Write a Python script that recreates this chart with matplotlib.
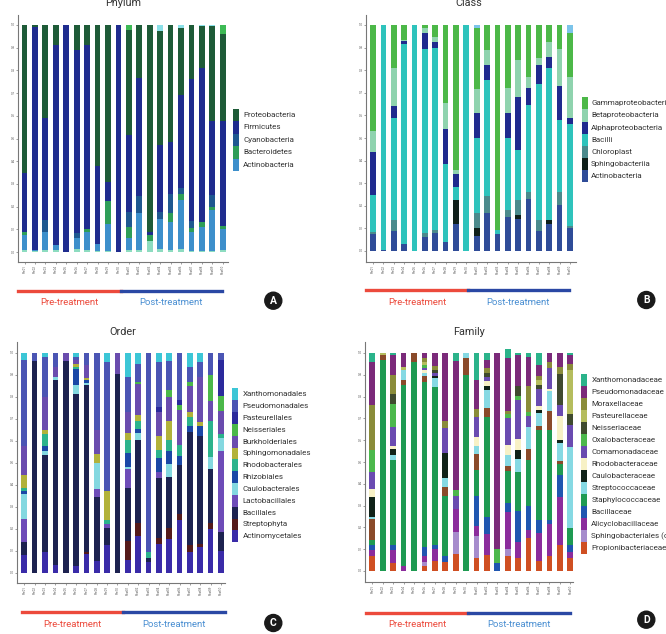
import matplotlib
matplotlib.use("Agg")
import numpy as np
import matplotlib.pyplot as plt
from matplotlib.patches import Rectangle, Ellipse
from matplotlib.lines import Line2D

plt.rcParams['font.family'] = ['Liberation Sans Narrow', 'Roboto', 'DejaVu Sans']

W, H = 666, 634

samples = ['Pre01', 'Pre02', 'Pre03', 'Pre04', 'Pre05', 'Pre06', 'Pre07', 'Pre08', 'Pre09', 'Pre10',
           'Post01', 'Post02', 'Post03', 'Post04', 'Post05', 'Post06', 'Post07', 'Post08', 'Post09', 'Post10']

# ---- Phylum (bottom -> top)
phy_other = [0.01, 0.005, 0.01, 0.01, 0, 0.015, 0.01, 0.005, 0.005, 0,
             0.01, 0.01, 0.05, 0.015, 0.01, 0.015, 0.005, 0.005, 0.005, 0.01]
phy_actino = [0.065, 0.005, 0.08, 0.02, 0, 0.045, 0.08, 0.03, 0.12, 0,
              0.05, 0.16, 0, 0.13, 0.12, 0.215, 0.085, 0.105, 0.18, 0.09]
phy_bacter = [0.015, 0, 0, 0, 0, 0, 0.01, 0, 0.10, 0,
              0.05, 0, 0.025, 0, 0.04, 0.025, 0.015, 0.02, 0.015, 0.015]
phy_cyano = [0, 0, 0.05, 0, 0, 0.025, 0, 0, 0, 0,
             0.065, 0.075, 0, 0.03, 0.085, 0.025, 0.03, 0, 0.05, 0]
phy_firm = [0.26, 0.98, 0.45, 0.88, 1.0, 0.805, 0.81, 0.345, 0.085, 1.0,
            0.34, 0.52, 0.015, 0.295, 0.23, 0.41, 0.625, 0.68, 0.325, 0.46]
phy_proteo = [0.65, 0.01, 0.41, 0.09, 0, 0.11, 0.09, 0.62, 0.69, 0,
              0.465, 0.235, 0.91, 0.505, 0.515, 0.295, 0.24, 0.185, 0.42, 0.385]
phy_top_green = [0, 0, 0, 0, 0, 0, 0, 0, 0, 0,
                 0.02, 0, 0, 0, 0, 0, 0, 0, 0, 0.04]
phy_top_cyan = [0, 0, 0, 0, 0, 0, 0, 0, 0, 0,
                0, 0, 0, 0.025, 0, 0.015, 0, 0.005, 0.005, 0]

# ---- Class
cls_actino = [0.075, 0.005, 0.09, 0.03, 0, 0.06, 0.08, 0.04, 0.12, 0,
              0.065, 0.17, 0.075, 0.15, 0.14, 0.23, 0.09, 0.12, 0.205, 0.1]
cls_sphingo = [0, 0, 0, 0, 0, 0, 0, 0, 0.105, 0,
               0.035, 0, 0, 0, 0.02, 0, 0, 0.015, 0, 0]
cls_chloro = [0.01, 0, 0.045, 0, 0, 0.02, 0.015, 0, 0, 0,
              0.07, 0.075, 0, 0.03, 0.065, 0.03, 0.045, 0, 0.055, 0.01]
cls_bacilli = [0.165, 0.995, 0.455, 0.885, 1.0, 0.815, 0.805, 0.345, 0.06, 1.0,
               0.33, 0.51, 0.02, 0.32, 0.22, 0.385, 0.605, 0.675, 0.32, 0.45]
cls_alpha = [0.19, 0, 0.05, 0.012, 0, 0.07, 0.025, 0.155, 0.055, 0,
             0.11, 0.07, 0, 0.11, 0.235, 0.075, 0.085, 0.05, 0.15, 0.03]
cls_beta = [0.09, 0, 0.17, 0.008, 0, 0.02, 0.02, 0.115, 0.02, 0,
            0.105, 0.065, 0, 0.11, 0.165, 0.05, 0.03, 0.065, 0.165, 0.18]
cls_gamma = [0.47, 0, 0.19, 0.065, 0, 0.015, 0.055, 0.345, 0.64, 0,
             0.27, 0.11, 0.905, 0.28, 0.155, 0.23, 0.145, 0.075, 0.105, 0.195]
cls_top = [0, 0, 0, 0, 0, 0, 0, 0, 0, 0,
           0.015, 0, 0, 0, 0, 0, 0, 0, 0, 0.035]

# ---- Order
ord_actino = [0.08, 0, 0.095, 0.035, 0, 0.03, 0.085, 0.055, 0.125, 0,
              0.06, 0.165, 0.05, 0.13, 0.155, 0.24, 0.095, 0.115, 0.2, 0.1]
ord_strep = [0, 0, 0, 0, 0, 0, 0.01, 0, 0, 0,
             0.085, 0.06, 0, 0.03, 0.05, 0.025, 0.03, 0.015, 0.025, 0]
ord_bacill = [0.06, 0.965, 0.44, 0.84, 0.965, 0.785, 0.76, 0.29, 0.08, 0.905,
              0.24, 0.38, 0.015, 0.27, 0.23, 0.225, 0.515, 0.49, 0.245, 0.085]
ord_lacto = [0.105, 0, 0, 0, 0, 0, 0, 0.035, 0.015, 0,
             0.085, 0, 0, 0.03, 0, 0, 0, 0, 0, 0.37]
ord_caulo = [0.115, 0, 0.02, 0.015, 0, 0.04, 0.01, 0.12, 0, 0,
             0.01, 0.03, 0, 0, 0.06, 0, 0, 0, 0.055, 0.06]
ord_rhizo = [0.01, 0, 0.02, 0, 0, 0.07, 0.01, 0, 0, 0,
             0.065, 0.02, 0, 0.06, 0.06, 0.04, 0.03, 0.05, 0, 0]
ord_rhodo = [0.015, 0, 0.055, 0, 0, 0.01, 0, 0, 0.02, 0,
             0.06, 0.035, 0.03, 0.04, 0.05, 0.05, 0.04, 0, 0.165, 0.015]
ord_sphingo = [0.06, 0, 0.02, 0, 0, 0.015, 0.01, 0.04, 0.13, 0,
               0.03, 0.03, 0, 0.06, 0.085, 0, 0.02, 0.015, 0, 0]
ord_burk = [0.13, 0, 0.15, 0.045, 0.035, 0.02, 0.06, 0.11, 0, 0.095,
            0.095, 0.14, 0, 0.11, 0.11, 0.16, 0.12, 0.205, 0.09, 0.105]
ord_neiss = [0, 0, 0, 0, 0, 0, 0, 0, 0, 0,
             0, 0.01, 0, 0, 0.03, 0.025, 0.02, 0, 0.12, 0.07]
ord_past = [0, 0, 0, 0, 0, 0, 0, 0, 0, 0,
            0, 0, 0, 0.025, 0, 0.02, 0, 0, 0, 0.165]
ord_pseudo = [0.395, 0.035, 0.18, 0.065, 0, 0.01, 0.055, 0.35, 0.59, 0,
              0.16, 0.08, 0.905, 0.205, 0.135, 0.215, 0.065, 0.07, 0.1, 0.03]
ord_xantho = [0.03, 0, 0.02, 0, 0, 0.02, 0, 0, 0.04, 0,
              0.11, 0.05, 0, 0.04, 0.035, 0, 0.065, 0.04, 0, 0]

# ---- Family
fam_propioni = [0.07, 0, 0.035, 0, 0, 0.025, 0.045, 0.04, 0.08, 0,
                0.06, 0.075, 0, 0.07, 0.06, 0.15, 0.045, 0.07, 0.12, 0.06]
fam_sphingo = [0, 0, 0, 0, 0, 0.015, 0, 0, 0.10, 0,
               0.10, 0, 0, 0.03, 0, 0, 0, 0, 0, 0]
fam_alicyclo = [0.025, 0, 0.06, 0.025, 0, 0.03, 0.055, 0, 0.105, 0,
                0.045, 0.095, 0, 0.17, 0.075, 0.04, 0.13, 0.145, 0.22, 0.025]
fam_bacill = [0.025, 0, 0.025, 0, 0, 0.04, 0.02, 0.03, 0, 0,
              0.14, 0.08, 0.035, 0.04, 0.14, 0.11, 0.06, 0.02, 0.1, 0.035]
fam_staph = [0.02, 0.97, 0.39, 0.83, 0.96, 0.755, 0.725, 0.275, 0, 0.9,
             0.12, 0.455, 0, 0.15, 0.18, 0.21, 0.41, 0.41, 0.05, 0.075]
fam_other = [0.10, 0.02, 0, 0.02, 0.04, 0.03, 0, 0.04, 0, 0.075,
             0.07, 0.045, 0, 0.02, 0, 0.05, 0.02, 0.09, 0.015, 0]
fam_strepto = [0.01, 0, 0.02, 0.045, 0, 0.015, 0.04, 0.04, 0, 0.025,
               0.04, 0.08, 0, 0.05, 0.06, 0.1, 0.06, 0.09, 0.08, 0.375]
fam_caulo = [0.09, 0, 0.03, 0, 0, 0, 0.01, 0.115, 0, 0,
             0, 0.02, 0, 0, 0.04, 0, 0.015, 0, 0.015, 0]
fam_rhodo = [0.035, 0, 0.015, 0, 0, 0.01, 0, 0, 0, 0,
             0.04, 0.02, 0, 0.05, 0.05, 0, 0.015, 0.01, 0.11, 0]
fam_coma = [0.08, 0, 0.085, 0, 0, 0.01, 0.015, 0.115, 0.06, 0,
            0.09, 0.02, 0, 0.12, 0.18, 0.05, 0.08, 0.095, 0.05, 0.1]
fam_oxalo = [0.10, 0, 0.105, 0, 0, 0.015, 0, 0, 0.025, 0,
             0, 0, 0.065, 0.02, 0.02, 0.02, 0, 0, 0, 0]
fam_neiss = [0, 0, 0.045, 0, 0, 0, 0.01, 0, 0, 0,
             0, 0.02, 0, 0, 0.045, 0, 0.02, 0, 0.145, 0.05]
fam_past = [0, 0.01, 0, 0.015, 0, 0.015, 0, 0, 0, 0,
            0, 0, 0, 0, 0, 0, 0.02, 0, 0, 0.2]
fam_morax = [0.205, 0, 0.09, 0, 0, 0.015, 0.02, 0.035, 0, 0,
             0.04, 0.02, 0, 0.015, 0, 0.12, 0.02, 0.03, 0.03, 0.03]
fam_pseudo = [0.20, 0, 0.09, 0.065, 0, 0.025, 0.06, 0.31, 0.595, 0,
              0.13, 0.04, 0.90, 0.24, 0.14, 0.13, 0.05, 0.04, 0.065, 0.04]
fam_xantho = [0.04, 0, 0.01, 0, 0, 0, 0, 0, 0.035, 0,
              0.125, 0.03, 0, 0.045, 0.01, 0.02, 0.055, 0, 0, 0.01]

# (series, colour, legend label or None), bottom -> top
phylum = [(phy_other, '#8ddcc0', None), (phy_actino, '#3d8fcb', 'Actinobacteria'),
          (phy_bacter, '#2e9e58', 'Bacteroidetes'), (phy_cyano, '#1f5890', 'Cyanobacteria'),
          (phy_firm, '#1f2c8e', 'Firmicutes'), (phy_proteo, '#1e5b38', 'Proteobacteria'),
          (phy_top_green, '#3dba55', None), (phy_top_cyan, '#8be0e8', None)]
klass = [(cls_actino, '#2f4c98', 'Actinobacteria'), (cls_sphingo, '#0f1f1a', 'Sphingobacteriia'),
         (cls_chloro, '#4b8a8c', 'Chloroplast'), (cls_bacilli, '#2ec3bc', 'Bacilli'),
         (cls_alpha, '#1f2a8e', 'Alphaproteobacteria'), (cls_beta, '#8fd3ae', 'Betaproteobacteria'),
         (cls_gamma, '#4cb848', 'Gammaproteobacteria'), (cls_top, '#7cc4ea', None)]
order = [(ord_actino, '#3a2ba8', 'Actinomycetales'), (ord_strep, '#551a1a', 'Streptophyta'),
         (ord_bacill, '#1d2250', 'Bacillales'), (ord_lacto, '#6e4cb8', 'Lactobacillales'),
         (ord_caulo, '#84d8e0', 'Caulobacterales'), (ord_rhizo, '#1a47a6', 'Rhizobiales'),
         (ord_rhodo, '#2cb38c', 'Rhodobacterales'), (ord_sphingo, '#b2b23a', 'Sphingomonadales'),
         (ord_burk, '#6a4cae', 'Burkholderiales'), (ord_neiss, '#4bb849', 'Neisseriales'),
         (ord_past, '#2b2a9c', 'Pasteurellales'), (ord_pseudo, '#4b55b4', 'Pseudomonadales'),
         (ord_xantho, '#3cc6d6', 'Xanthomonadales')]
family = [(fam_propioni, '#cf4f22', 'Propionibacteriaceae'),
          (fam_sphingo, '#a68ccc', 'Sphingobacteriales (o)'),
          (fam_alicyclo, '#8b2c9c', 'Alicyclobacillaceae'), (fam_bacill, '#1f56b0', 'Bacillaceae'),
          (fam_staph, '#1e9a52', 'Staphylococcaceae'), (fam_other, '#8a4a2a', None),
          (fam_strepto, '#86d9e3', 'Streptococcaceae'), (fam_caulo, '#102218', 'Caulobacteraceae'),
          (fam_rhodo, '#f7f1c6', 'Rhodobacteraceae'), (fam_coma, '#6a4bb0', 'Comamonadaceae'),
          (fam_oxalo, '#4cb84c', 'Oxalobacteraceae'), (fam_neiss, '#3f4a2e', 'Neisseriaceae'),
          (fam_past, '#b5bd5e', 'Pasteurellaceae'), (fam_morax, '#8a8c3a', 'Moraxellaceae'),
          (fam_pseudo, '#7b2a7a', 'Pseudomonadaceae'), (fam_xantho, '#2bb38a', 'Xanthomonadaceae')]

fig = plt.figure(figsize=(W / 100, H / 100), dpi=100)


def fx(x):
    return x / W


def fy(y):
    return 1 - y / H


def panel(layers, l, t, r, b, y1, y0, xf, xl):
    ax = fig.add_axes([fx(l), fy(b), (r - l) / W, (b - t) / H])
    x = np.arange(len(samples))
    bottom = np.zeros(len(samples))
    for vals, col, _ in layers:
        ax.bar(x, vals, bottom=bottom, width=0.55, color=col, linewidth=0)
        bottom += np.array(vals)
    sx = (xl - xf) / (len(samples) - 1)
    sy = y0 - y1
    ax.set_xlim(-(xf - l) / sx, len(samples) - 1 + (r - xl) / sx)
    ax.set_ylim(-(b - y0) / sy, 1 + (y1 - t) / sy)
    ax.set_yticks(np.arange(0, 1.01, 0.1))
    ax.set_yticklabels(['%.1f' % v for v in np.arange(0, 1.01, 0.1)])
    ax.set_xticks(x)
    ax.set_xticklabels(samples, rotation=90)
    ax.tick_params(axis='both', labelsize=2.2, length=1.2, width=0.4,
                   colors='#555555', pad=1)
    for s in ['top', 'right']:
        ax.spines[s].set_visible(False)
    for s in ['left', 'bottom']:
        ax.spines[s].set_color('#777777')
        ax.spines[s].set_linewidth(0.8)
    return ax


def legend(layers, px, pw, top, row, tx):
    items = [(lab, col) for _, col, lab in layers if lab][::-1]
    for i, (lab, col) in enumerate(items):
        fig.patches.append(Rectangle((fx(px), fy(top + (i + 1) * row)), pw / W, row / H,
                                     transform=fig.transFigure, color=col, lw=0))
        fig.text(fx(tx), fy(top + (i + 0.5) * row), lab, fontsize=5.8,
                 va='center', ha='left', color='#333333')


def footer(x0, xm, x1, yl, yt, cx, cy, letter):
    fig.add_artist(Line2D([fx(x0), fx(xm)], [fy(yl)] * 2, color='#ec4a3c', lw=2.4))
    fig.add_artist(Line2D([fx(xm), fx(x1)], [fy(yl)] * 2, color='#2a48a4', lw=2.4))
    fig.text(fx((x0 + xm) / 2), fy(yt), 'Pre-treatment', color='#ec4a3c',
             fontsize=6.8, ha='center', va='center')
    fig.text(fx((xm + x1) / 2), fy(yt), 'Post-treatment', color='#4a8fd2',
             fontsize=6.8, ha='center', va='center')
    fig.patches.append(Ellipse((fx(cx), fy(cy)), 17 / W, 17 / H,
                               transform=fig.transFigure, color='#1a1a1a'))
    fig.text(fx(cx), fy(cy), letter, color='white', fontsize=7.5, fontweight='bold',
             ha='center', va='center')


panel(phylum, 18, 15, 228, 262, 25, 252, 24.5, 222.7)
panel(klass, 366, 15, 576, 262, 25, 251, 373, 570)
panel(order, 17, 342, 225, 583, 353, 572.7, 24.3, 221)
panel(family, 365, 342, 573, 582, 353, 571, 372.3, 570.3)

legend(phylum, 233, 6.5, 108.7, 12.5, 243)
legend(klass, 582.3, 6, 97.3, 12.1, 591)
legend(order, 232.3, 5.5, 388.4, 11.83, 242.7)
legend(family, 581.3, 6, 374.4, 11.95, 591.3)

for txt, cx, cy in [('Phylum', 122.7, 3), ('Class', 468.7, 3), ('Order', 122.7, 332), ('Family', 469, 332)]:
    fig.text(fx(cx), fy(cy), txt, fontsize=7.8, ha='center', va='center', color='#333333')

footer(18.3, 120.5, 221.7, 290.7, 302.3, 273.3, 300.7, 'A')
footer(366.3, 467.5, 569, 290, 302.3, 646.3, 300, 'B')
footer(22.3, 123.3, 225, 612, 624.3, 273.3, 623, 'C')
footer(366.3, 468, 569.7, 613, 624.3, 646.3, 619.7, 'D')

fig.savefig('out.png', dpi=100)
